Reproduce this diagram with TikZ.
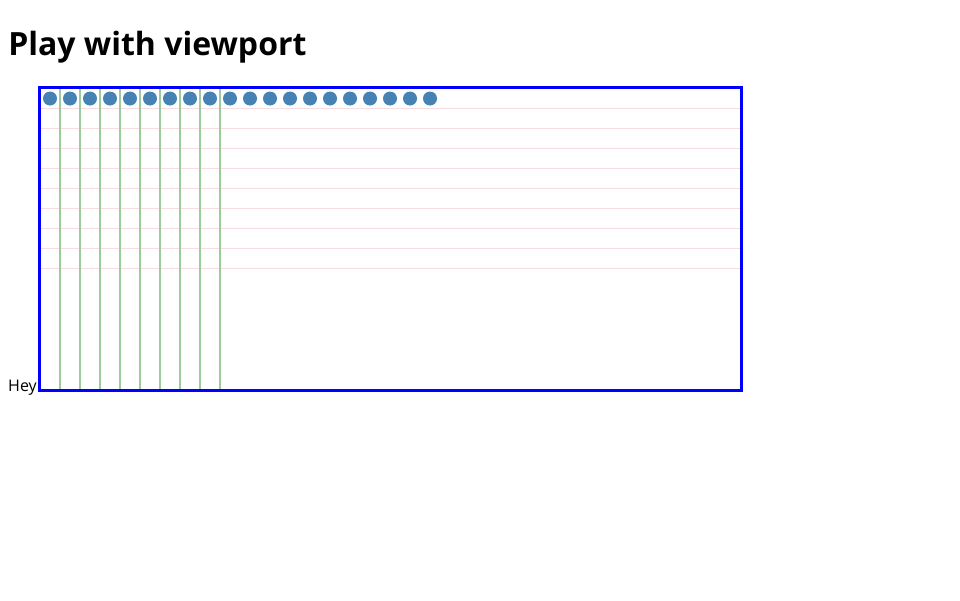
\documentclass[tikz,border=0pt]{standalone}
\usepackage{fontspec}
\setmainfont{Open Sans}
\definecolor{dotblue}{HTML}{4682B4}
\definecolor{gridgreen}{HTML}{9CCC9C}
\definecolor{gridpink}{HTML}{F9DCDF}
\tikzset{
  dot/.style={circle, fill=dotblue, inner sep=0pt, minimum size=10.5pt},
  vline/.style={gridgreen, line width=1.1pt},
  hline/.style={gridpink, line width=1.1pt},
}
\begin{document}
\begin{tikzpicture}[x=0.75pt, y=-0.75pt]
  \useasboundingbox (0,0) rectangle (960,600);

  % title
  \node[anchor=base west, inner sep=0pt, font=\fontsize{24}{28}\selectfont\bfseries] (title) at (8,55) {Play with viewport};

  % horizontal lines
  \foreach \y in {108.5,128.5,...,268.5}
    \draw[hline] (40,\y) -- (740,\y);

  % vertical lines
  \foreach \x in {60,80,...,220}
    \draw[vline] (\x,88) -- (\x,389);

  % dots
  \foreach \i in {0,...,19}
    \node[dot] (d\i) at (50+20*\i,98.5) {};

  % viewport frame
  \draw[blue, line width=2.25pt] (39.5,87.5) rectangle (741,390);
  \coordinate (corner) at (37,391.5);

  \node[anchor=base east, inner sep=0pt, font=\fontsize{12}{14}\selectfont] (hey) at (corner) {Hey};
\end{tikzpicture}
\end{document}
